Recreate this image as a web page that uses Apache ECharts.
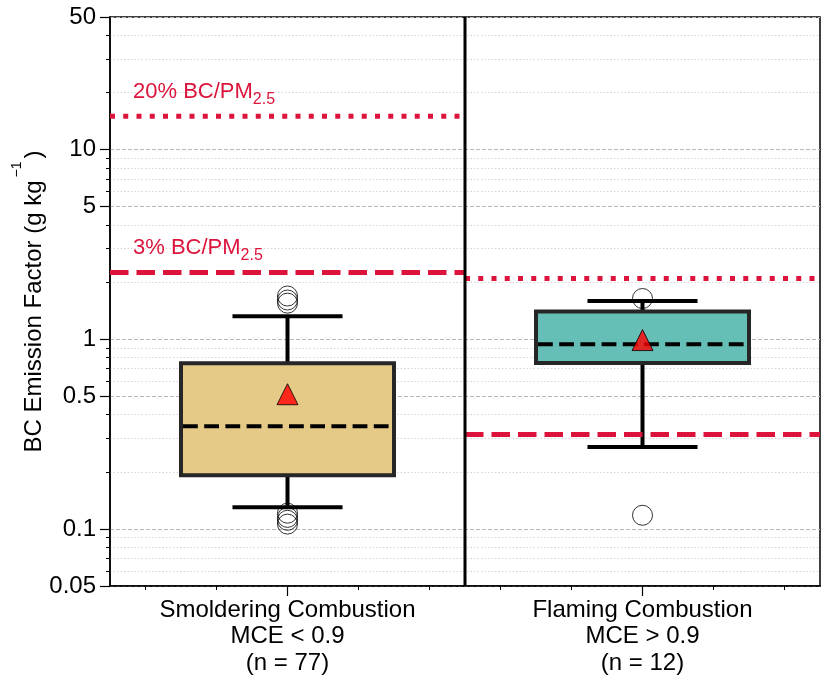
<!DOCTYPE html>
<html>
<head>
<meta charset="utf-8">
<script src="https://cdn.jsdelivr.net/npm/echarts@6/dist/echarts.min.js"></script>
<style>
  html, body { margin: 0; padding: 0; background: #fff; }
  #chart { width: 829px; height: 684px; }
</style>
</head>
<body>
<div id="chart"></div>
<script>
// ---------------- data ----------------
const categories = ['Smoldering Combustion\nMCE < 0.9\n(n = 77)', 'Flaming Combustion\nMCE > 0.9\n(n = 12)'];
const whiskerLow = [0.130, 0.270];
const q1 = [0.192, 0.750];
const medians = [0.348, 0.941];
const q3 = [0.747, 1.40];
const whiskerHigh = [1.32, 1.59];
const means = [0.513, 0.99];
const outliersSmoldering = [1.69, 1.61, 1.55, 0.121, 0.115, 0.111, 0.106];
const outliersFlaming = [1.64, 0.118];
const ref3pct = [2.25, 0.315];
const ref20pct = [15.0, 2.09];
const ref3Label = '3% BC/PM';
const ref20Label = '20% BC/PM';
const refSub = '2.5';
const yTickValues = [0.05, 0.1, 0.5, 1, 5, 10, 50];
const yTickLabels = ['0.05', '0.1', '0.5', '1', '5', '10', '50'];
const yMin = 0.05, yMax = 50;

// ---------------- styles ----------------
const FONT = '"Liberation Sans", Arial, Helvetica, sans-serif';
const RED = '#DC143C';
const boxColors = ['#E5C987', '#66BFB6'];

const yMinorValues = [];
[0.01, 0.1, 1, 10].forEach(d => { for (let k = 2; k <= 9; k++) { const v = +(d * k).toPrecision(3); if (v > yMin && v < yMax && yTickValues.indexOf(v) < 0) yMinorValues.push(v); } });
const L = v => Math.log10(v);

const boxData = categories.map((c, i) => [i, whiskerLow[i], q1[i], medians[i], q3[i], whiskerHigh[i]]);

function renderBox(params, api) {
  const idx = api.value(0);
  const band = api.size([1, 1], [idx, 1])[0];
  const x = api.coord([idx, api.value(3)])[0];
  const yLo = api.coord([idx, api.value(1)])[1];
  const yQ1 = api.coord([idx, api.value(2)])[1];
  const yMed = api.coord([idx, api.value(3)])[1];
  const yQ3 = api.coord([idx, api.value(4)])[1];
  const yHi = api.coord([idx, api.value(5)])[1];
  const bw = band * 0.6, cw = band * 0.31;
  const ws = { stroke: '#000', lineWidth: 4, lineCap: 'butt' };
  return {
    type: 'group',
    children: [
      { type: 'line', shape: { x1: x, y1: yQ3, x2: x, y2: yHi }, style: ws },
      { type: 'line', shape: { x1: x, y1: yQ1, x2: x, y2: yLo }, style: ws },
      { type: 'line', shape: { x1: x - cw / 2, y1: yHi, x2: x + cw / 2, y2: yHi }, style: ws },
      { type: 'line', shape: { x1: x - cw / 2, y1: yLo, x2: x + cw / 2, y2: yLo }, style: ws },
      { type: 'rect', shape: { x: x - bw / 2, y: yQ3, width: bw, height: yQ1 - yQ3 },
        style: { fill: boxColors[idx], stroke: '#262626', lineWidth: 4 } },
      { type: 'line', shape: { x1: x - bw / 2 + 2, y1: yMed, x2: x + bw / 2 - 2, y2: yMed },
        style: { stroke: '#000', lineWidth: 4, lineDash: [14.8, 6.4], lineCap: 'butt' } }
    ]
  };
}

function makeRefRender(dash, label) {
  return function (params, api) {
    const idx = api.value(0);
    const p = api.coord([idx, api.value(1)]);
    const band = api.size([1, 1], [idx, 1])[0];
    const x0 = p[0] - band / 2, x1 = p[0] + band / 2;
    const children = [{
      type: 'line', shape: { x1: x0, y1: p[1], x2: x1, y2: p[1] },
      style: { stroke: RED, lineWidth: 5, lineDash: dash, lineCap: 'butt' }
    }];
    if (idx === 0) {
      children.push({
        type: 'text', x: x0 + 23, y: p[1] - 13.6,
        style: {
          text: '{a|' + label + '}{s|' + refSub + '}',
          align: 'left', verticalAlign: 'bottom', fill: RED,
          rich: {
            a: { fontSize: 22, lineHeight: 22, verticalAlign: 'top', fill: RED, fontFamily: FONT },
            s: { fontSize: 16, lineHeight: 16, padding: [11, 0, 0, 0], verticalAlign: 'top', fill: RED, fontFamily: FONT }
          }
        }
      });
    }
    return { type: 'group', children };
  };
}

function renderSeparator(params, api) {
  const idx = api.value(0);
  const band = api.size([1, 1], [idx, 1])[0];
  const x = api.coord([idx, 1])[0] + band / 2;
  const cs = params.coordSys;
  return { type: 'line', shape: { x1: x, y1: cs.y, x2: x, y2: cs.y + cs.height },
           style: { stroke: '#000', lineWidth: 3 } };
}

const chart = echarts.init(document.getElementById('chart'), null, { renderer: 'canvas' });
const option = {
  backgroundColor: '#fff',
  animation: false,
  textStyle: { fontFamily: FONT, color: '#000' },
  grid: {
    left: 110, right: 9, top: 17, bottom: 98,
    show: true, borderColor: '#000', borderWidth: 1.5, backgroundColor: '#fff',
    containLabel: false, outerBoundsMode: 'none'
  },
  xAxis: [
    {
      type: 'category', data: categories, boundaryGap: true, position: 'bottom',
      axisLine: { show: true, onZero: false, lineStyle: { color: '#000', width: 1.5 } },
      axisTick: { show: true, alignWithLabel: true, length: 10, lineStyle: { color: '#000', width: 1.2 } },
      axisLabel: { fontSize: 24, lineHeight: 26.5, margin: 11, color: '#000', fontFamily: FONT, interval: 0 },
      splitLine: { show: false }
    },
    {
      type: 'value', min: 0, max: 2, position: 'bottom',
      axisLine: { show: false, onZero: false },
      axisTick: { show: true, length: 4, customValues: [0.1, 0.3, 0.7, 0.9, 1.1, 1.3, 1.7, 1.9], lineStyle: { color: '#000', width: 1 } },
      axisLabel: { show: false },
      splitLine: { show: false }
    }
  ],
  yAxis: [
    { type: 'log', logBase: 10, min: yMin, max: yMax, show: false },
    {
      type: 'value', min: L(yMin), max: L(yMax), position: 'left',
      name: '{a|BC Emission Factor (g kg}{s|\u22121}{a|)}',
      nameLocation: 'middle', nameGap: 64, nameMoveOverlap: false,
      nameTextStyle: {
        color: '#000',
        rich: {
          a: { fontSize: 24, lineHeight: 24, verticalAlign: 'bottom', fontFamily: FONT, color: '#000' },
          s: { fontSize: 14, lineHeight: 14, padding: [0, 3, 22, 3], verticalAlign: 'bottom', fontFamily: FONT, color: '#000' }
        }
      },
      axisLine: { show: true, onZero: false, lineStyle: { color: '#000', width: 1.5 } },
      axisTick: { show: true, length: 10, customValues: yTickValues.map(L), lineStyle: { color: '#000', width: 1.2 } },
      axisLabel: {
        show: true, customValues: yTickValues.map(L), fontSize: 24, margin: 14, color: '#000', fontFamily: FONT,
        formatter: v => {
          let best = 0;
          yTickValues.forEach((t, i) => { if (Math.abs(L(t) - v) < Math.abs(L(yTickValues[best]) - v)) best = i; });
          return yTickLabels[best];
        }
      },
      splitLine: { show: true, lineStyle: { color: '#b8b8b8', width: 1, type: [4, 2] } }
    },
    {
      type: 'value', min: L(yMin), max: L(yMax), position: 'left',
      axisLine: { show: false, onZero: false },
      axisTick: { show: true, length: 4, customValues: yMinorValues.map(L), lineStyle: { color: '#000', width: 1 } },
      axisLabel: { show: false },
      splitLine: { show: true, lineStyle: { color: '#d6d6d6', width: 1, type: [1.5, 2] } }
    }
  ],
  series: [
    {
      type: 'custom', name: 'box', xAxisIndex: 0, yAxisIndex: 0, z: 3,
      renderItem: renderBox, data: boxData, encode: { x: 0, y: [1, 2, 3, 4, 5] }
    },
    {
      type: 'custom', name: '3% BC/PM2.5', xAxisIndex: 0, yAxisIndex: 0, z: 4,
      renderItem: makeRefRender([18.5, 8], ref3Label),
      data: ref3pct.map((v, i) => [i, v]), encode: { x: 0, y: 1 }
    },
    {
      type: 'custom', name: '20% BC/PM2.5', xAxisIndex: 0, yAxisIndex: 0, z: 4,
      renderItem: makeRefRender([5, 8.25], ref20Label),
      data: ref20pct.map((v, i) => [i, v]), encode: { x: 0, y: 1 }
    },
    {
      type: 'custom', name: 'separator', xAxisIndex: 0, yAxisIndex: 0, z: 5,
      renderItem: renderSeparator, data: [[0, 1]], encode: { x: 0, y: 1 }
    },
    {
      type: 'scatter', name: 'outliers', xAxisIndex: 0, yAxisIndex: 0, z: 6,
      symbol: 'circle', symbolSize: 20,
      itemStyle: { color: 'rgba(0,0,0,0)', borderColor: '#000', borderWidth: 1 },
      data: outliersSmoldering.map(v => [0, v]).concat(outliersFlaming.map(v => [1, v]))
    },
    {
      type: 'scatter', name: 'mean', xAxisIndex: 0, yAxisIndex: 0, z: 7,
      symbol: 'triangle', symbolSize: 21,
      itemStyle: { color: '#FF0000', borderColor: '#000', borderWidth: 1 },
      data: means.map((v, i) => [i, v])
    }
  ]
};
chart.setOption(option);
</script>
</body>
</html>
